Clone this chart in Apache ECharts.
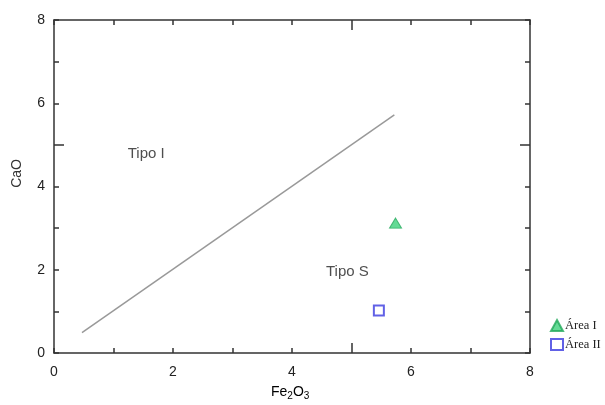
<!DOCTYPE html>
<html>
<head>
<meta charset="utf-8">
<script src="https://cdn.jsdelivr.net/npm/echarts@6/dist/echarts.min.js"></script>
<style>
html,body{margin:0;padding:0;background:#fff;}
#c{width:605px;height:405px;}
</style>
</head>
<body>
<div id="c"></div>
<script>
// Data
const axisTicks = [0, 2, 4, 6, 8];
const lineX = [0.47, 5.72];
const lineY = [0.49, 5.72];
const areaI_X = [5.74];
const areaI_Y = [3.12];
const areaII_X = [5.46];
const areaII_Y = [1.02];
const regionNames = ['Tipo I', 'Tipo S'];
const regionX = [1.55, 4.93];
const regionY = [4.78, 1.95];
const seriesNames = ['Área I', 'Área II'];

const chart = echarts.init(document.getElementById('c'));
const axisColor = '#333';
const sans = 'Liberation Sans, Arial, sans-serif';
const labelFont = {fontFamily: sans, fontSize: 14, color: '#222'};

function mainAxis(pos, showLabels, isX) {
  return {
    type: 'value', min: 0, max: 8, interval: 1, position: pos,
    axisLine: {show: true, onZero: false, lineStyle: {color: axisColor, width: 1.5}},
    axisTick: {show: true, inside: true, length: 5, lineStyle: {color: axisColor, width: 1.5}},
    axisLabel: showLabels ? Object.assign({
      show: true, margin: isX ? 12 : 9,
      formatter: v => axisTicks.indexOf(v) >= 0 ? String(v) : ''
    }, labelFont) : {show: false},
    splitLine: {show: false}
  };
}
function longTickAxis(pos) {
  return {
    type: 'value', min: 0, max: 8, interval: 1, position: pos,
    axisLine: {show: false, onZero: false},
    axisTick: {show: true, inside: true, length: 10, customValues: [5], lineStyle: {color: axisColor, width: 1.5}},
    axisLabel: {show: false},
    splitLine: {show: false}
  };
}

chart.setOption({
  animation: false,
  backgroundColor: '#fff',
  grid: {left: 54, right: 75, top: 20, bottom: 52, containLabel: false},
  xAxis: [mainAxis('bottom', true, true), mainAxis('top', false, true), longTickAxis('bottom'), longTickAxis('top')],
  yAxis: [mainAxis('left', true, false), mainAxis('right', false, false), longTickAxis('left'), longTickAxis('right')],
  legend: {
    orient: 'vertical', left: 545, top: 314, itemGap: 6,
    itemWidth: 12, itemHeight: 11,
    data: seriesNames,
    textStyle: {fontFamily: 'Liberation Serif, Times New Roman, serif', fontSize: 12.5, color: '#222', padding: [0, 0, 0, -3]}
  },
  graphic: [
    {type: 'text', left: 10, top: 159, rotation: Math.PI / 2,
     style: {text: 'CaO', font: '14px Liberation Sans, Arial, sans-serif', fill: '#333'}},
    {type: 'text', left: 271, top: 385,
     style: {text: '{a|Fe}{s|2}{a|O}{s|3}', rich: {
       a: {fontFamily: sans, fontSize: 14, color: '#333'},
       s: {fontFamily: sans, fontSize: 10, color: '#333', padding: [8, 0, 0, 0]}
     }}}
  ],
  series: [
    {
      type: 'line', name: 'boundary', data: lineX.map((x, i) => [x, lineY[i]]),
      showSymbol: false, symbol: 'none', lineStyle: {color: '#999', width: 1.5}, silent: true
    },
    {
      type: 'scatter', name: 'regions', symbolSize: 0,
      data: regionNames.map((n, i) => ({name: n, value: [regionX[i], regionY[i]]})),
      label: {show: true, position: 'inside', formatter: p => p.name,
        fontFamily: sans, fontSize: 15, color: '#222'},
      silent: true
    },
    {
      type: 'scatter', name: seriesNames[0], symbol: 'triangle', symbolSize: [12, 10],
      data: areaI_X.map((x, i) => [x, areaI_Y[i]]),
      itemStyle: {color: '#3dd17a', borderColor: '#22a85a', borderWidth: 1}
    },
    {
      type: 'scatter', name: seriesNames[1], symbol: 'rect', symbolSize: 10,
      data: areaII_X.map((x, i) => [x, areaII_Y[i]]),
      itemStyle: {color: '#fff', borderColor: '#3a3ae0', borderWidth: 2}
    }
  ]
});
</script>
</body>
</html>
